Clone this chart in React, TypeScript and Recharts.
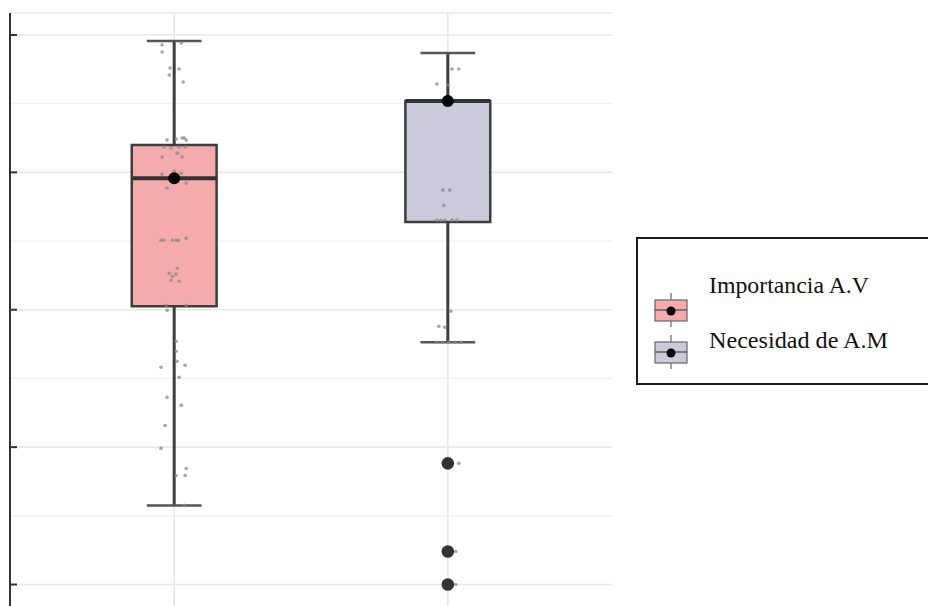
import {
  ComposedChart,
  XAxis,
  YAxis,
  CartesianGrid,
  ReferenceArea,
  ReferenceLine,
  Scatter,
} from "recharts";

// two groups, placed at x = 1 and x = 2
const groups = ["Importancia A.V", "Necesidad de A.M"];
const groupPos = [1, 2];
const boxFills = ["#F5ABAB", "#CBCADB"];

// box statistics per group
const whiskerLow = [1.576, 2.763];
const q1 = [3.025, 3.638];
const medians = [3.958, 4.519];
const q3 = [4.199, 4.519];
const whiskerHigh = [4.956, 4.869];
const means = [3.958, 4.519];

// outliers (all in the second group)
const outlierValues = [1.882, 1.24, 1.0];

// raw observations, horizontal offset from the group centre + value
const impOffsets = [
  -0.044, 0.026, -0.044, -0.015, 0.018, -0.018, 0.033, -0.026, 0.007, 0.037, 0.044, 0.029,
  -0.037, -0.011, 0.018, 0.04, -0.044, 0.011, 0.029, -0.044, 0.0, 0.026, 0.044, -0.026,
  -0.048, -0.037, -0.007, 0.007, 0.015, 0.044, 0.011, -0.018, -0.007, 0.007, -0.011, 0.018,
  -0.029, 0.044, -0.026, 0.007, 0.007, 0.011, -0.048, 0.04, 0.018, -0.026, 0.026, -0.033,
  -0.048, 0.044, 0.007, 0.04, 0.037,
];
const impValues = [
  4.927, 4.942, 4.876, 4.76, 4.752, 4.709, 4.658, 4.235, 4.242, 4.25, 4.235, 4.25,
  4.184, 4.177, 4.184, 4.184, 4.111, 4.14, 4.111, 3.987, 4.009, 3.994, 3.922, 3.885,
  3.506, 3.506, 3.506, 3.506, 3.506, 3.521, 3.302, 3.266, 3.244, 3.259, 3.215, 3.208,
  3.033, 3.033, 2.996, 2.77, 2.698, 2.625, 2.581, 2.596, 2.508, 2.362, 2.304, 2.158,
  1.991, 1.845, 1.794, 1.794, 1.576,
];
const necOffsets = [
  0.015, 0.04, -0.04, 0.0, 0.015, -0.018, 0.007, -0.015, -0.04, -0.026, -0.011, 0.015,
  0.033, 0.011, -0.033, -0.011, -0.04, -0.018, 0.004, 0.026, 0.048, 0.04, 0.029, 0.029,
];
const necValues = [
  4.752, 4.752, 4.643, 4.636, 4.519, 3.871, 3.871, 3.761, 3.652, 3.652, 3.652, 3.652,
  3.652, 2.989, 2.88, 2.872, 2.763, 2.763, 2.763, 2.763, 2.763, 1.882, 1.24, 1.0,
];

const majorTicks = [1, 2, 3, 4, 5];
const minorTicks = [1.5, 2.5, 3.5, 4.5];

const yMin = 0.8;
const yMax = 5.16;
const boxHalf = 0.155;
const capHalf = 0.1;

const jitterData = [
  ...impValues.map((v, i) => ({ x: groupPos[0] + impOffsets[i], y: v })),
  ...necValues.map((v, i) => ({ x: groupPos[1] + necOffsets[i], y: v })),
];
const meanData = means.map((m, i) => ({ x: groupPos[i], y: m }));
const outlierData = outlierValues.map((v) => ({ x: groupPos[1], y: v }));

const noTick = () => <g />;

function LegendBox() {
  const rows = [
    { label: groups[0], fill: boxFills[0], textY: 56, iconY: 73, len: 160 },
    { label: groups[1], fill: boxFills[1], textY: 111, iconY: 115, len: 179 },
  ];
  return (
    <svg
      width={300}
      height={152}
      style={{ position: "absolute", left: 636, top: 237 }}
    >
      <rect x={1} y={1} width={310} height={146} fill="#fff" stroke="#1a1a1a" strokeWidth={2} />
      {rows.map((r) => (
        <g key={r.label}>
          <line x1={35} x2={35} y1={r.iconY - 17} y2={r.iconY + 17} stroke="#666" strokeWidth={1.2} />
          <rect x={19} y={r.iconY - 10} width={32} height={21} fill={r.fill} stroke="#666" strokeWidth={1.2} />
          <line x1={19} x2={51} y1={r.iconY} y2={r.iconY} stroke="#555" strokeWidth={1.4} />
          <circle cx={35} cy={r.iconY + 1} r={4.5} fill="#000" />
          <text
            x={73}
            y={r.textY}
            fontFamily="'Liberation Serif', 'Times New Roman', serif"
            fontSize={23}
            fill="#111"
            textLength={r.len}
            lengthAdjust="spacingAndGlyphs"
          >
            {r.label}
          </text>
        </g>
      ))}
    </svg>
  );
}

export default function App() {
  return (
    <div
      style={{
        position: "absolute",
        left: 0,
        top: 0,
        width: 928,
        height: 606,
        overflow: "hidden",
        background: "#fff",
      }}
    >
      <ComposedChart
        width={928}
        height={612}
        margin={{ top: 13, right: 316, bottom: 0, left: 10 }}
      >
        <CartesianGrid
          horizontalValues={minorTicks}
          verticalValues={[]}
          vertical={false}
          stroke="#f1f1f1"
          strokeWidth={1.2}
        />
        <CartesianGrid
          horizontalValues={majorTicks}
          verticalValues={groupPos}
          stroke="#e8e8e8"
          strokeWidth={1.6}
        />
        <XAxis type="number" dataKey="x" domain={[0.4, 2.6]} allowDataOverflow hide />
        <YAxis
          type="number"
          dataKey="y"
          domain={[yMin, yMax]}
          allowDataOverflow
          ticks={majorTicks}
          width={1}
          mirror
          tick={noTick}
          tickSize={7}
          tickLine={{ stroke: "#333", strokeWidth: 2 }}
          axisLine={{ stroke: "#333", strokeWidth: 2 }}
        />
        <ReferenceLine y={yMax} stroke="#e8e8e8" strokeWidth={1.5} />

        {groupPos.map((gx, i) => (
          <ReferenceLine
            key={`wh-hi-${i}`}
            segment={[{ x: gx, y: q3[i] }, { x: gx, y: whiskerHigh[i] }]}
            stroke="#3d3d3d"
            strokeWidth={3}
          />
        ))}
        {groupPos.map((gx, i) => (
          <ReferenceLine
            key={`wh-lo-${i}`}
            segment={[{ x: gx, y: whiskerLow[i] }, { x: gx, y: q1[i] }]}
            stroke="#3d3d3d"
            strokeWidth={3}
          />
        ))}
        {groupPos.map((gx, i) => (
          <ReferenceLine
            key={`cap-hi-${i}`}
            segment={[{ x: gx - capHalf, y: whiskerHigh[i] }, { x: gx + capHalf, y: whiskerHigh[i] }]}
            stroke="#555"
            strokeWidth={2.5}
          />
        ))}
        {groupPos.map((gx, i) => (
          <ReferenceLine
            key={`cap-lo-${i}`}
            segment={[{ x: gx - capHalf, y: whiskerLow[i] }, { x: gx + capHalf, y: whiskerLow[i] }]}
            stroke="#555"
            strokeWidth={2.5}
          />
        ))}
        {groupPos.map((gx, i) => (
          <ReferenceArea
            key={`box-${i}`}
            x1={gx - boxHalf}
            x2={gx + boxHalf}
            y1={q1[i]}
            y2={q3[i]}
            fill={boxFills[i]}
            fillOpacity={1}
            stroke="#3d3d3d"
            strokeWidth={2.5}
          />
        ))}
        {groupPos.map((gx, i) => (
          <ReferenceLine
            key={`med-${i}`}
            segment={[{ x: gx - boxHalf, y: medians[i] }, { x: gx + boxHalf, y: medians[i] }]}
            stroke="#333"
            strokeWidth={4}
          />
        ))}

        <Scatter
          data={jitterData}
          isAnimationActive={false}
          shape={(p: any) => (
            <circle cx={p.cx} cy={p.cy} r={1.8} fill="#888" fillOpacity={0.75} />
          )}
        />
        <Scatter
          data={outlierData}
          isAnimationActive={false}
          shape={(p: any) => <circle cx={p.cx} cy={p.cy} r={6.3} fill="#333" />}
        />
        <Scatter
          data={meanData}
          isAnimationActive={false}
          shape={(p: any) => <circle cx={p.cx} cy={p.cy} r={6} fill="#000" />}
        />
      </ComposedChart>
      <LegendBox />
    </div>
  );
}
